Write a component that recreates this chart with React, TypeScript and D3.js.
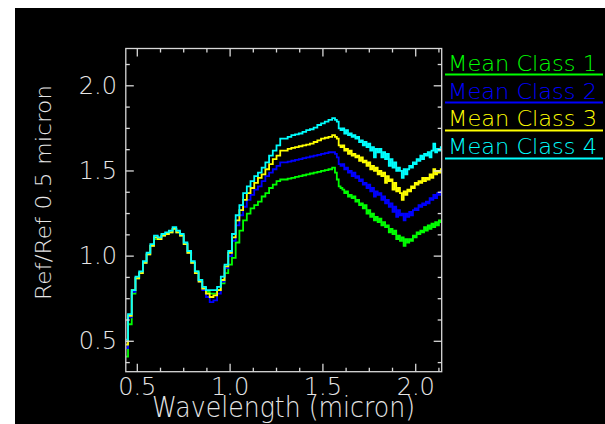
import React from "react";
import * as d3 from "d3";

const wavelength = [
  0.44, 0.46, 0.48, 0.5, 0.52, 0.54, 0.56, 0.58, 0.6, 0.62, 0.64, 0.66, 0.68, 0.7, 0.72, 0.74, 0.76, 0.78,
  0.8, 0.82, 0.84, 0.86, 0.88, 0.9, 0.92, 0.94, 0.96, 0.98, 1.0, 1.02, 1.04, 1.06, 1.08, 1.1, 1.12, 1.14,
  1.16, 1.18, 1.2, 1.22, 1.24, 1.26, 1.28, 1.3, 1.32, 1.34, 1.36, 1.38, 1.4, 1.42, 1.44, 1.46, 1.48, 1.5,
  1.52, 1.54, 1.56,
  1.57, 1.58, 1.59, 1.6, 1.61, 1.62, 1.63, 1.64, 1.65, 1.66, 1.67, 1.68, 1.69, 1.7, 1.71, 1.72, 1.73, 1.74,
  1.75, 1.76, 1.77, 1.78, 1.79, 1.8, 1.81, 1.82, 1.83, 1.84, 1.85, 1.86, 1.87, 1.88, 1.89, 1.9, 1.91, 1.92,
  1.93, 1.94, 1.95, 1.96, 1.97, 1.98, 1.99, 2.0, 2.01, 2.02, 2.03, 2.04, 2.05, 2.06, 2.07, 2.08, 2.09, 2.1,
  2.11, 2.12, 2.13, 2.14,
];

const class1 = [
  0.41, 0.6, 0.78, 0.87, 0.9, 0.96, 1.01, 1.06, 1.1, 1.1, 1.12, 1.13, 1.14, 1.16, 1.14, 1.12, 1.07, 1.02,
  0.96, 0.91, 0.86, 0.81, 0.79, 0.78, 0.78, 0.8, 0.84, 0.9, 0.95, 0.99, 1.08, 1.15, 1.21, 1.25, 1.28, 1.3,
  1.32, 1.35, 1.37, 1.4, 1.42, 1.44, 1.45, 1.45, 1.455, 1.46, 1.465, 1.47, 1.475, 1.48, 1.485, 1.49, 1.495, 1.5,
  1.505, 1.51, 1.52,
  1.49, 1.45, 1.41, 1.4, 1.39, 1.37, 1.38, 1.35, 1.36, 1.34, 1.35, 1.32, 1.33, 1.3, 1.31, 1.28, 1.3, 1.25,
  1.27, 1.23, 1.25, 1.21, 1.23, 1.2, 1.22, 1.18, 1.2, 1.17, 1.18, 1.14, 1.16, 1.13, 1.15, 1.1, 1.12, 1.09,
  1.11, 1.06, 1.1, 1.08, 1.1, 1.09, 1.12, 1.11, 1.14, 1.13, 1.15, 1.14, 1.17, 1.15, 1.18, 1.16, 1.19, 1.17,
  1.2, 1.18, 1.21, 1.2,
];

const class2 = [
  0.46, 0.64, 0.79, 0.87, 0.9, 0.96, 1.01, 1.06, 1.11, 1.1, 1.12, 1.13, 1.14, 1.16, 1.14, 1.12, 1.07, 1.02,
  0.96, 0.9, 0.85, 0.8, 0.76, 0.73, 0.74, 0.78, 0.85, 0.93, 1.0, 1.09, 1.18, 1.24, 1.29, 1.33, 1.36, 1.39,
  1.41, 1.44, 1.47, 1.49, 1.51, 1.53, 1.55, 1.55, 1.555, 1.56, 1.565, 1.57, 1.575, 1.58, 1.585, 1.59, 1.595, 1.6,
  1.605, 1.61, 1.61,
  1.6, 1.58, 1.54, 1.53, 1.54, 1.51, 1.52, 1.49, 1.5, 1.47, 1.49, 1.46, 1.47, 1.44, 1.45, 1.42, 1.43, 1.4,
  1.42, 1.38, 1.4, 1.35, 1.38, 1.36, 1.37, 1.33, 1.35, 1.31, 1.33, 1.29, 1.31, 1.26, 1.29, 1.23, 1.27, 1.24,
  1.25, 1.21, 1.25, 1.23, 1.26, 1.24, 1.27, 1.28, 1.27, 1.3, 1.29, 1.31, 1.3, 1.32, 1.31, 1.34, 1.33, 1.36,
  1.34, 1.37, 1.36, 1.38,
];

const class3 = [
  0.48, 0.65, 0.8, 0.87, 0.9, 0.96, 1.01, 1.06, 1.11, 1.1, 1.12, 1.13, 1.14, 1.16, 1.14, 1.12, 1.07, 1.02,
  0.96, 0.9, 0.85, 0.81, 0.78, 0.76, 0.77, 0.8, 0.86, 0.94, 1.02, 1.11, 1.21, 1.27, 1.33, 1.37, 1.4, 1.43,
  1.46, 1.48, 1.51, 1.54, 1.57, 1.59, 1.62, 1.62, 1.63, 1.635, 1.64, 1.645, 1.65, 1.655, 1.66, 1.67, 1.68, 1.69,
  1.695, 1.7, 1.71,
  1.7, 1.69, 1.65, 1.64, 1.65, 1.62, 1.63, 1.6, 1.62, 1.59, 1.6, 1.58, 1.59, 1.56, 1.58, 1.55, 1.56, 1.53,
  1.55, 1.51, 1.53, 1.5, 1.52, 1.48, 1.5, 1.47, 1.49, 1.43, 1.47, 1.44, 1.45, 1.39, 1.43, 1.38, 1.4, 1.37,
  1.33, 1.38, 1.36, 1.39, 1.38, 1.41, 1.4, 1.43, 1.42, 1.44, 1.43, 1.46, 1.44, 1.46, 1.45, 1.48, 1.46, 1.51,
  1.48, 1.5, 1.49, 1.51,
];

const class4 = [
  0.51, 0.66, 0.8, 0.88, 0.91, 0.97, 1.02, 1.07, 1.12, 1.11, 1.13, 1.14, 1.15, 1.17, 1.15, 1.13, 1.08, 1.03,
  0.97, 0.91, 0.86, 0.82, 0.8, 0.8, 0.8, 0.82, 0.88, 0.95, 1.03, 1.13, 1.24, 1.3, 1.37, 1.41, 1.44, 1.47,
  1.49, 1.52, 1.55, 1.59, 1.62, 1.65, 1.69, 1.69, 1.7, 1.71, 1.715, 1.72, 1.73, 1.74, 1.745, 1.755, 1.77, 1.78,
  1.79, 1.8, 1.81,
  1.8, 1.79, 1.75, 1.74, 1.75, 1.72, 1.74, 1.71, 1.72, 1.7, 1.71, 1.69, 1.7, 1.67, 1.68, 1.65, 1.67, 1.64,
  1.66, 1.62, 1.64, 1.58, 1.63, 1.61, 1.63, 1.58, 1.61, 1.57, 1.6, 1.53, 1.57, 1.52, 1.55, 1.5, 1.52, 1.5,
  1.46, 1.51, 1.48, 1.51, 1.53, 1.52, 1.55, 1.54, 1.57, 1.56, 1.59, 1.57, 1.6, 1.59, 1.61, 1.58, 1.62, 1.66,
  1.61, 1.63, 1.62, 1.64,
];

const seriesNames = ["Mean Class 1", "Mean Class 2", "Mean Class 3", "Mean Class 4"];
const seriesColors = ["#00ff00", "#0000ff", "#ffff00", "#00ffff"];
const seriesValues = [class1, class2, class3, class4];

const xMajorTicks = [0.5, 1.0, 1.5, 2.0];
const xMinorTicks = [0.625, 0.75, 0.875, 1.125, 1.25, 1.375, 1.625, 1.75, 1.875, 2.125];
const yMajorTicks = [0.5, 1.0, 1.5, 2.0];
const yMinorTicks = [0.375, 0.625, 0.75, 0.875, 1.125, 1.25, 1.375, 1.625, 1.75, 1.875, 2.125];

const xTitle = "Wavelength (micron)";
const yTitle = "Ref/Ref 0.5 micron";

export default function App() {
  const W = 605;
  const H = 424;
  const left = 125.8;
  const right = 441.7;
  const top = 48.5;
  const bottom = 371.7;

  const x = d3.scaleLinear().domain([0.438, 2.14]).range([left, right]);
  const y = d3.scaleLinear().domain([0.3215, 2.219]).range([bottom, top]);

  const line = d3
    .line<number>()
    .x((_, i) => x(wavelength[i]))
    .y((d) => y(d))
    .curve(d3.curveStep);

  const axisColor = "#d8d8d8";
  const textColor = "#e6e6e6";
  const font = "'DejaVu Sans', sans-serif";
  const majorLen = 8;
  const minorLen = 4;

  return (
    <div style={{ position: "absolute", left: 0, top: 0 }}>
      <svg width={W} height={H} style={{ display: "block" }}>
        <rect x={0} y={0} width={W} height={H} fill="#ffffff" />
        <rect x={15} y={8} width={W - 15} height={H - 8} fill="#000000" />
        <defs>
          <clipPath id="plotclip">
            <rect x={left} y={top} width={right - left} height={bottom - top} />
          </clipPath>
        </defs>

        <g clipPath="url(#plotclip)">
          {seriesValues.map((vals, k) => (
            <path
              key={k}
              d={line(vals) || ""}
              fill="none"
              stroke={seriesColors[k]}
              strokeWidth={1.8}
            />
          ))}
        </g>

        <rect
          x={left}
          y={top}
          width={right - left}
          height={bottom - top}
          fill="none"
          stroke={axisColor}
          strokeWidth={1.3}
        />

        {xMajorTicks.concat(xMinorTicks).map((t, i) => {
          const len = xMajorTicks.includes(t) ? majorLen : minorLen;
          const px = x(t);
          return (
            <g key={"xt" + i} stroke={axisColor} strokeWidth={1.3}>
              <line x1={px} x2={px} y1={bottom} y2={bottom - len} />
              <line x1={px} x2={px} y1={top} y2={top + len} />
            </g>
          );
        })}
        {yMajorTicks.concat(yMinorTicks).map((t, i) => {
          const len = yMajorTicks.includes(t) ? majorLen : minorLen;
          const py = y(t);
          return (
            <g key={"yt" + i} stroke={axisColor} strokeWidth={1.3}>
              <line x1={left} x2={left + len} y1={py} y2={py} />
              <line x1={right} x2={right - len} y1={py} y2={py} />
            </g>
          );
        })}

        {xMajorTicks.map((t, i) => (
          <text
            key={"xl" + i}
            x={x(t)}
            y={395}
            textAnchor="middle"
            fontFamily={font}
            fontWeight={200}
            fontSize={24}
            fill={textColor}
          >
            {t.toFixed(1)}
          </text>
        ))}
        {yMajorTicks.map((t, i) => (
          <text
            key={"yl" + i}
            x={117}
            y={y(t) + 8}
            textAnchor="end"
            fontFamily={font}
            fontWeight={200}
            fontSize={24}
            fill={textColor}
          >
            {t.toFixed(1)}
          </text>
        ))}

        <text
          x={283.5}
          y={417}
          textAnchor="middle"
          fontFamily={font}
          fontWeight={200}
          fontSize={28}
          textLength={263}
          lengthAdjust="spacingAndGlyphs"
          fill={textColor}
        >
          {xTitle}
        </text>
        <text
          transform="translate(51,192.5) rotate(-90)"
          textAnchor="middle"
          fontFamily={font}
          fontWeight={200}
          fontSize={21}
          textLength={215}
          lengthAdjust="spacingAndGlyphs"
          fill={textColor}
        >
          {yTitle}
        </text>

        {seriesNames.map((name, k) => (
          <g key={"lg" + k}>
            <text
              x={448}
              y={71 + k * 27.6}
              fontFamily={font}
              fontWeight={200}
              fontSize={22}
              textLength={149}
              lengthAdjust="spacingAndGlyphs"
              fill={seriesColors[k]}
            >
              {name}
            </text>
            <line
              x1={445}
              x2={603}
              y1={74.5 + k * 28}
              y2={74.5 + k * 28}
              stroke={seriesColors[k]}
              strokeWidth={2}
            />
          </g>
        ))}
      </svg>
    </div>
  );
}
